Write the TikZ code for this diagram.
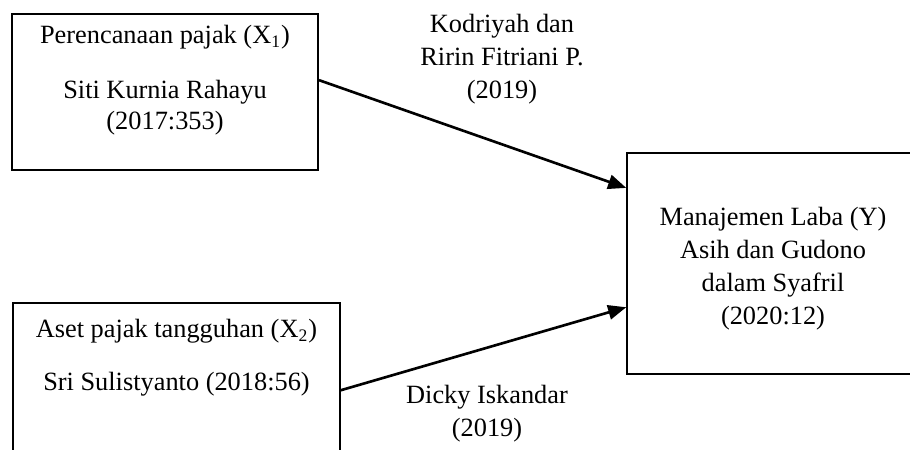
\documentclass[tikz,border=0pt]{standalone}
\usepackage{fontspec}
\setmainfont{Liberation Serif}
\usetikzlibrary{arrows.meta}

\begin{document}
\begin{tikzpicture}[
  x=0.016cm, y=-0.016cm,
  box/.style={rectangle, draw, line width=0.8pt, inner sep=0pt},
  txt/.style={align=center, inner sep=0pt, font={\fontsize{12}{14}\selectfont}},
  lbl/.style={align=center, inner sep=0pt, font={\fontsize{12}{15}\selectfont}},
  arr/.style={line width=1.2pt, -{Triangle[length=2.9mm, width=2.3mm]}}
]
\useasboundingbox (0,0) rectangle (910,450);
\clip (0,0) rectangle (910,450);

\node[box, minimum width=4.90cm, minimum height=2.50cm] (pp) at (165, 92) {};
\node[txt] (pptxt) at (165, 80)
  {Perencanaan pajak (X\textsubscript{1})\\[11pt]Siti Kurnia Rahayu\\(2017:353)};

\node[box, minimum width=5.23cm, minimum height=3.15cm] (apt) at (176.5, 401.5) {};
\node[txt] (apttxt) at (176.5, 358)
  {Aset pajak tangguhan (X\textsubscript{2})\\[10pt]Sri Sulistyanto (2018:56)};

\node[box, minimum width=4.67cm, minimum height=3.54cm] (ml) at (773, 263.5) {};
\node[lbl] (mltxt) at (773, 269)
  {Manajemen Laba (Y)\\Asih dan Gudono\\dalam Syafril\\(2020:12)};

\draw[arr] ([yshift=0.19cm]pp.east) -- ([yshift=1.21cm]ml.west);
\draw[arr] ([yshift=0.18cm]apt.east) -- ([yshift=-0.70cm]ml.west);

\node[lbl] (ref1) at (502, 59) {Kodriyah dan\\Ririn Fitriani P.\\(2019)};
\node[lbl] (ref2) at (487, 414) {Dicky Iskandar\\(2019)};
\end{tikzpicture}
\end{document}
